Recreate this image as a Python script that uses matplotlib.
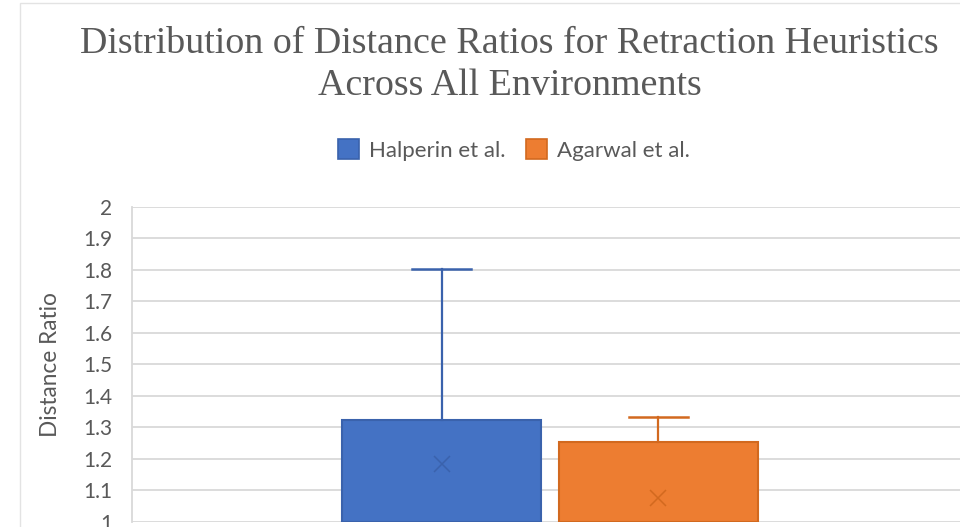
import matplotlib.pyplot as plt
from matplotlib.patches import Patch, Rectangle

# Data (box-and-whisker, one category)
series = ["Halperin et al.", "Agarwal et al."]
q1 = [1.0, 1.0]
median = [1.0, 1.0]
q3 = [1.324, 1.253]
whisker_low = [1.0, 1.0]
whisker_high = [1.804, 1.333]
means = [1.183, 1.075]

fill_colors = ["#4472C4", "#ED7D31"]
edge_colors = ["#3A62AC", "#D2691F"]
text_gray = "#595959"
grid_gray = "#D9D9D9"

fig = plt.figure(figsize=(9.6, 5.27), dpi=100)

# chart area border (light gray, like the Excel chart frame)
fig.patches.append(Rectangle((20 / 960, -0.1), 1.2, 1.1 - 3 / 527, transform=fig.transFigure,
                             fill=False, edgecolor="#E3E3E3", lw=1.0))

ax = fig.add_axes([132 / 960, 1 - 522 / 527, 835 / 960, 315 / 527])

positions = [0.3707, 0.6305]
for i, name in enumerate(series):
    stats = [{
        "med": median[i], "q1": q1[i], "q3": q3[i],
        "whislo": whisker_low[i], "whishi": whisker_high[i],
        "mean": means[i], "fliers": [],
    }]
    ax.bxp(stats, positions=[positions[i]], widths=0.238, capwidths=0.0707,
           showmeans=True, patch_artist=True, manage_ticks=False,
           boxprops=dict(facecolor=fill_colors[i], edgecolor=edge_colors[i], lw=1.5),
           whiskerprops=dict(color=edge_colors[i], lw=1.6),
           capprops=dict(color=edge_colors[i], lw=1.8),
           medianprops=dict(color=edge_colors[i], lw=0),
           meanprops=dict(marker="x", markersize=12, markeredgecolor=edge_colors[i],
                          markeredgewidth=1.1))

ax.set_xlim(0, 1)
ax.set_ylim(1, 2)
ax.set_yticks([1 + 0.1 * k for k in range(11)])
ax.set_yticklabels(["1", "1.1", "1.2", "1.3", "1.4", "1.5", "1.6", "1.7", "1.8", "1.9", "2"])
ax.set_xticks([])
ax.grid(axis="y", color=grid_gray, lw=1.3)
ax.set_axisbelow(True)
for side in ["top", "right", "bottom"]:
    ax.spines[side].set_visible(False)
ax.spines["left"].set_color(grid_gray)
ax.spines["left"].set_linewidth(1.3)
ax.tick_params(axis="y", length=0, pad=14, labelsize=15, labelcolor=text_gray)
for lab in ax.get_yticklabels():
    lab.set_family("Lato")
ax.set_ylabel("Distance Ratio", fontsize=16.3, color=text_gray, family="Lato")
ax.yaxis.set_label_coords(-0.098, 0.5)
ax.yaxis.label.set_va("center")

fig.text(0.531, 1 - 65 / 527,
         "Distribution of Distance Ratios for Retraction Heuristics\nAcross All Environments",
         ha="center", va="center", fontsize=27.4, family="Liberation Serif",
         color=text_gray, linespacing=1.27)

handles = [Patch(facecolor=fill_colors[i], edgecolor=edge_colors[i], lw=1.2, label=series[i])
           for i in range(2)]
fig.legend(handles=handles, loc="center", bbox_to_anchor=(514 / 960, 1 - 150 / 527), ncol=2,
           frameon=False, handlelength=0.95, handleheight=0.95, handletextpad=0.45,
           columnspacing=0.9, prop={"family": "Lato", "size": 16}, labelcolor=text_gray)

fig.savefig("out.png", dpi=100)
